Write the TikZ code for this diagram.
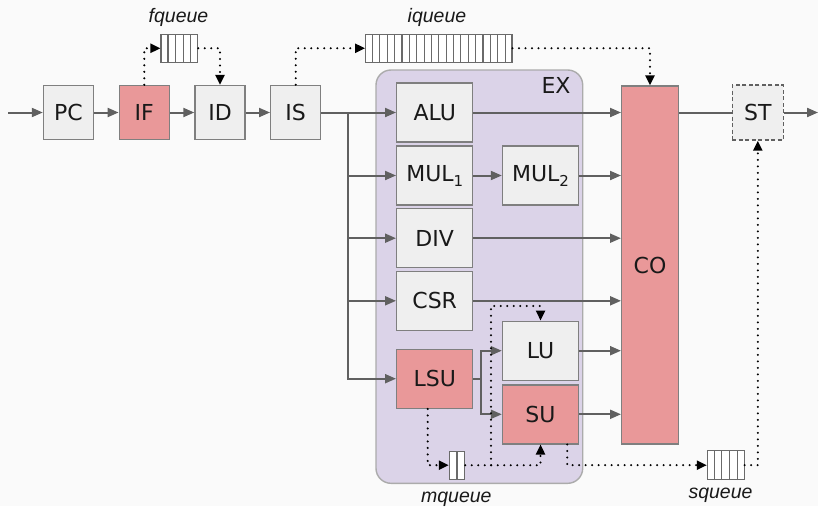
\documentclass[tikz,border=0pt]{standalone}
\usepackage{fontspec}
\setmainfont{DejaVu Sans}
\newfontfamily\labelfont{Liberation Sans}
\usetikzlibrary{arrows.meta,calc}
\definecolor{bgc}{HTML}{FAFAFA}
\definecolor{boxc}{HTML}{EFEFEF}
\definecolor{bordc}{HTML}{7F7F7F}
\definecolor{redc}{HTML}{E99899}
\definecolor{exc}{HTML}{DBD3E8}
\definecolor{exb}{HTML}{ABABAB}
\definecolor{linec}{HTML}{606060}
\definecolor{qline}{HTML}{6A6A6A}
\newcommand\qcells[3]{\foreach \i in {1,...,#3}{\pgfmathsetmacro\qfrac{\i/#2}\draw[draw=qline,line width=1.1pt] ($(#1.south west)!\qfrac!(#1.south east)$) -- ($(#1.north west)!\qfrac!(#1.north east)$);}}
\newcommand\subidx[1]{\raisebox{-5pt}{\fontsize{15}{15}\selectfont #1}}
\tikzset{
  box/.style={draw=bordc, fill=boxc, line width=1.4pt, minimum width=76pt, minimum height=59pt, inner sep=0pt, font=\fontsize{22}{26}\selectfont, text=black!90},
  smallbox/.style={box, minimum width=50pt, minimum height=54pt},
  redfill/.style={fill=redc},
  exbox/.style={draw=exb, fill=exc, line width=1.4pt, rounded corners=15pt, inner sep=0pt},
  queue/.style={draw=qline, fill=white, line width=1.1pt, inner sep=0pt},
  lab/.style={font=\labelfont\itshape\fontsize{19.5}{22}\selectfont, inner sep=0pt, anchor=base, text=black!90},
  ln/.style={draw=linec, line width=2pt},
  arr/.style={ln, -{Triangle[length=11pt,width=9pt]}},
  dot/.style={draw=black, line width=2.3pt, line cap=round, dash pattern=on 0pt off 6.5pt, -{Triangle[length=10pt,width=9pt]}},
}
\begin{document}
\begin{tikzpicture}[x=1pt,y=-1pt]
\useasboundingbox (0,0) rectangle (818,506);
\fill[bgc] (0,0) rectangle (818,506);
% EX region
\node[exbox, minimum width=206.7pt, minimum height=413.3pt] (EX) at (479.35,276.65) {};
\node[font=\fontsize{22}{26}\selectfont, inner sep=0pt, text=black!90] (EXl) at (556,85) {EX};
% front end
\node[smallbox] (PC) at (68.5,112.5) {PC};
\node[smallbox,redfill] (IF) at (144.3,112.5) {IF};
\node[smallbox] (ID) at (220,112.5) {ID};
\node[smallbox] (IS) at (295.7,112.5) {IS};
% units
\node[box] (ALU) at (434.7,112.5) {ALU};
\node[box] (MUL1) at (434.7,175.5) {MUL\subidx{1}};
\node[box] (MUL2) at (540.5,175.5) {MUL\subidx{2}};
\node[box] (DIV) at (434.7,238.2) {DIV};
\node[box] (CSR) at (434.7,300.8) {CSR};
\node[box,redfill] (LSU) at (434.7,378.7) {LSU};
\node[box] (LU) at (540.5,350.7) {LU};
\node[box,redfill] (SU) at (540.5,414.3) {SU};
\node[box,redfill, minimum width=56.6pt, minimum height=358pt] (CO) at (650,265) {CO};
\node[smallbox, dash pattern=on 4pt off 2.5pt, draw=linec, minimum width=51pt, minimum height=55pt] (ST) at (757.8,112.5) {ST};
% queues
\node[queue, minimum width=36.7pt, minimum height=28pt] (fq) at (179.3,48.3) {};
\qcells{fq}{5}{4}
\node[queue, minimum width=146.3pt, minimum height=28pt] (iq) at (438.8,48.3) {};
\qcells{iq}{20}{19}
\node[queue, minimum width=15.4pt, minimum height=28.3pt] (mq) at (457,465.2) {};
\qcells{mq}{2}{1}
\node[queue, minimum width=36.7pt, minimum height=28.6pt] (sq) at (725.7,465.2) {};
\qcells{sq}{5}{4}
\node[lab] (fql) at (178.5,22.3) {fqueue};
\node[lab] (iql) at (437,22.7) {iqueue};
\node[lab] (mql) at (456.3,502) {mqueue};
\node[lab] (sql) at (720.5,498.3) {squeue};
% solid connectors
\coordinate (in) at (8,112.5);
\coordinate (out) at (818,112.5);
\draw[arr] (in) -- (PC);
\draw[arr] (PC) -- (IF);
\draw[arr] (IF) -- (ID);
\draw[arr] (ID) -- (IS);
\draw[arr] (IS) -- (ALU);
\coordinate (br) at (348,112.5);
\foreach \t in {MUL1,DIV,CSR,LSU} \draw[arr] (br) |- (\t.west);
\foreach \t in {ALU,MUL2,DIV,CSR,LU,SU} \draw[arr] (\t) -- (\t -| CO.west);
\draw[arr] (MUL1) -- (MUL2);
\coordinate (lb) at (480.7,378.7);
\draw[ln] (LSU.east) -- (lb);
\draw[arr] (lb) |- (LU.west);
\draw[arr] (lb) |- (SU.west);
\draw[ln] (CO.east |- ST) -- (ST.west);
\draw[arr] (ST) -- (out);
% dotted connectors
\draw[dot] (IF.north) |- (fq.west);
\draw[dot] (fq.east) -| (ID.north);
\draw[dot] (IS.north) |- (iq.west);
\draw[dot] (iq.east) -| (CO.north);
\draw[dot] ([xshift=-7pt]LSU.south) |- (mq.west);
\draw[dot] (mq.east) -| (SU.south);
\coordinate (mj) at (491,465.2);
\coordinate (mt) at (491,306);
\draw[dot] (mj) -- (mt) -| (LU.north);
\draw[dot] ([xshift=26.8pt]SU.south) |- (sq.west);
\draw[dot] (sq.east) -| (ST.south);
\end{tikzpicture}
\end{document}
